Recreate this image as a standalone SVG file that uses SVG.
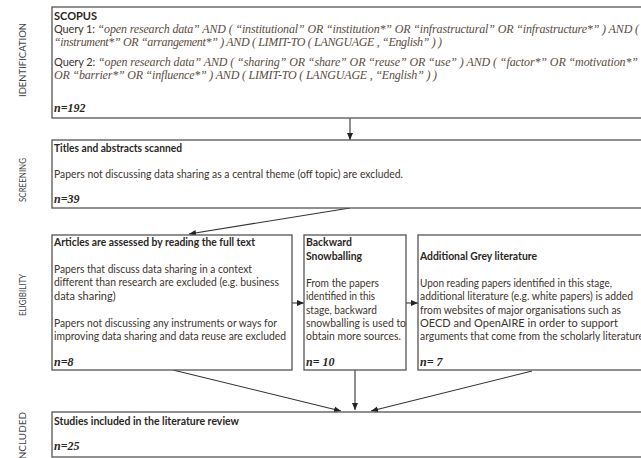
<svg xmlns="http://www.w3.org/2000/svg" width="641" height="458" viewBox="0 0 641 458">
<defs>
<style>
.box{fill:#fff;stroke:#555;stroke-width:1.3}
.lbl{font-family:Lato,"Open Sans",sans-serif;font-size:10px;fill:#444}
.t{font-family:Lato,"Liberation Sans",sans-serif;font-size:11px;font-weight:bold;fill:#2a2622}
.b{font-family:Lato,"Liberation Sans",sans-serif;font-size:11px;fill:#3d342c}
.q{font-family:"Liberation Serif",serif;font-size:12px;font-style:italic;fill:#5a4c40}
.n{font-family:"Liberation Serif",serif;font-size:12px;font-style:italic;font-weight:bold;fill:#2a2622}
.c{stroke:#333;stroke-width:1.1;fill:none;marker-end:url(#ah)}
</style>
<marker id="ah" markerWidth="8" markerHeight="8" refX="7" refY="4" orient="auto" markerUnits="userSpaceOnUse">
<path d="M0,1 L7,4 L0,7 Z" fill="#222"/>
</marker>
</defs>
<rect width="641" height="458" fill="#fff"/>

<g id="stage-labels">
<text class="lbl" transform="translate(26,60) rotate(-90)" text-anchor="middle" textLength="74" lengthAdjust="spacingAndGlyphs">IDENTIFICATION</text>
<text class="lbl" transform="translate(26,180) rotate(-90)" text-anchor="middle" textLength="44" lengthAdjust="spacingAndGlyphs">SCREENING</text>
<text class="lbl" transform="translate(26,295) rotate(-90)" text-anchor="middle" textLength="42" lengthAdjust="spacingAndGlyphs">ELIGIBILITY</text>
<text class="lbl" transform="translate(26,412) rotate(-90)" text-anchor="end" textLength="50" lengthAdjust="spacingAndGlyphs">INCLUDED</text>
</g>

<g id="connectors">
<line class="c" x1="350" y1="118" x2="350" y2="140"/>
<line class="c" x1="350" y1="208" x2="189" y2="234"/>
<line class="c" x1="292" y1="303" x2="304" y2="303"/>
<line class="c" x1="406" y1="303" x2="418" y2="303"/>
<line class="c" x1="173" y1="370" x2="341" y2="411"/>
<line class="c" x1="355" y1="370" x2="355" y2="410"/>
<line class="c" x1="532" y1="371" x2="371" y2="411"/>
</g>

<g id="scopus">
<rect class="box" x="52" y="7" width="620" height="111"/>
<text class="t" x="54" y="20">SCOPUS</text>
<text x="54" y="33" textLength="585" lengthAdjust="spacing"><tspan class="b">Query 1: </tspan><tspan class="q">“open research data” AND ( “institutional”  OR  “institution*”  OR  “infrastructural”  OR  “infrastructure*” ) AND (</tspan></text>
<text class="q" x="54" y="46" textLength="388" lengthAdjust="spacing">“instrument*”  OR  “arrangement*” ) AND ( LIMIT-TO ( LANGUAGE , “English” ) )</text>
<text x="54" y="66" textLength="584" lengthAdjust="spacing"><tspan class="b">Query 2: </tspan><tspan class="q">“open research data”  AND  ( “sharing”  OR  “share”  OR  “reuse”  OR  “use” )  AND  ( “factor*”  OR  “motivation*”</tspan></text>
<text class="q" x="54" y="79" textLength="383" lengthAdjust="spacing">OR  “barrier*”  OR  “influence*” )  AND  ( LIMIT-TO ( LANGUAGE , “English” ) )</text>
<text class="n" x="54" y="112">n=192</text>
</g>

<g id="screening">
<rect class="box" x="52" y="140" width="620" height="68"/>
<text class="t" x="54" y="152" textLength="128" lengthAdjust="spacingAndGlyphs">Titles and abstracts scanned</text>
<text class="b" x="54" y="178" textLength="349" lengthAdjust="spacingAndGlyphs">Papers not discussing data sharing as a central theme (off topic) are excluded.</text>
<text class="n" x="54" y="203">n=39</text>
</g>

<g id="fulltext">
<rect class="box" x="52" y="235" width="240" height="135"/>
<text class="t" x="54" y="246" textLength="201" lengthAdjust="spacingAndGlyphs">Articles are assessed by reading the full text</text>
<text class="b" x="54" y="273" textLength="198" lengthAdjust="spacingAndGlyphs">Papers that discuss data sharing in a context</text>
<text class="b" x="54" y="286" textLength="225" lengthAdjust="spacingAndGlyphs">different than research are excluded (e.g. business</text>
<text class="b" x="54" y="300">data sharing)</text>
<text class="b" x="54" y="327" textLength="223" lengthAdjust="spacingAndGlyphs">Papers not discussing any instruments or ways for</text>
<text class="b" x="54" y="340" textLength="232" lengthAdjust="spacingAndGlyphs">improving data sharing and data reuse are excluded</text>
<text class="n" x="54" y="366">n=8</text>
</g>

<g id="snowballing">
<rect class="box" x="304" y="235" width="102" height="135"/>
<text class="t" x="306" y="246" textLength="46" lengthAdjust="spacingAndGlyphs">Backward</text>
<text class="t" x="306" y="260" textLength="56" lengthAdjust="spacingAndGlyphs">Snowballing</text>
<text class="b" x="306" y="287" textLength="73" lengthAdjust="spacingAndGlyphs">From the papers</text>
<text class="b" x="306" y="300" textLength="69" lengthAdjust="spacingAndGlyphs">identified in this</text>
<text class="b" x="306" y="314" textLength="71" lengthAdjust="spacingAndGlyphs">stage, backward</text>
<text class="b" x="306" y="327" textLength="100" lengthAdjust="spacingAndGlyphs">snowballing is used to</text>
<text class="b" x="306" y="340" textLength="95" lengthAdjust="spacingAndGlyphs">obtain more sources.</text>
<text class="n" x="306" y="366">n= 10</text>
</g>

<g id="grey">
<rect class="box" x="418" y="235" width="260" height="135"/>
<text class="t" x="420" y="260" textLength="117" lengthAdjust="spacingAndGlyphs">Additional Grey literature</text>
<text class="b" x="420" y="287" textLength="192" lengthAdjust="spacingAndGlyphs">Upon reading papers identified in this stage,</text>
<text class="b" x="420" y="300" textLength="213" lengthAdjust="spacingAndGlyphs">additional literature (e.g. white papers) is added</text>
<text class="b" x="420" y="314" textLength="201" lengthAdjust="spacingAndGlyphs">from websites of major organisations such as</text>
<text class="b" x="420" y="327">OECD and OpenAIRE in order to support</text>
<text class="b" x="420" y="340" textLength="224" lengthAdjust="spacingAndGlyphs">arguments that come from the scholarly literature</text>
<text class="n" x="420" y="366">n= 7</text>
</g>

<g id="included">
<rect class="box" x="52" y="412" width="620" height="45"/>
<text class="t" x="54" y="425" textLength="185" lengthAdjust="spacingAndGlyphs">Studies included in the literature review</text>
<text class="n" x="54" y="450">n=25</text>
</g>
</svg>
